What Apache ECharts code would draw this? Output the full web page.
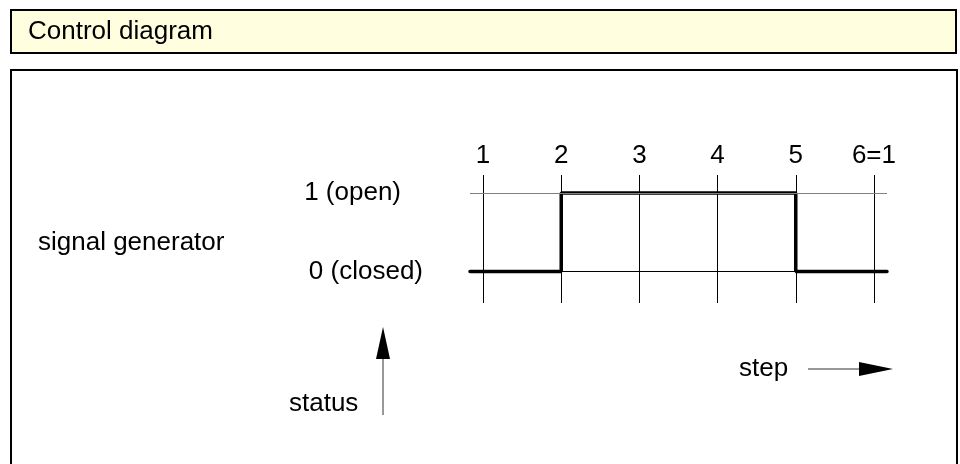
<!DOCTYPE html>
<html>
<head>
<meta charset="utf-8">
<script src="https://cdn.jsdelivr.net/npm/echarts@6/dist/echarts.min.js"></script>
<style>
  html, body { margin: 0; padding: 0; background: #fff; }
  #main { width: 960px; height: 464px; }
</style>
</head>
<body>
<div id="main"></div>
<script>
// step positions and their labels on top
var stepPos = [1, 2, 3, 4, 5, 6];
var stepLabels = ['1', '2', '3', '4', '5', '6=1'];
// status levels
var levels = [0, 1];
var levelLabels = ['0 (closed)', '1 (open)'];
// signal generator trace (value holds until next point)
var signalX = [0.833, 2, 5, 6.167];
var signalY = [0, 1, 0, 0];

var FONT = '"Liberation Sans", Arial, sans-serif';
var FS = 26;

var dom = document.getElementById('main');
var myChart = echarts.init(dom, null, { renderer: 'canvas' });

var signalData = signalX.map(function (x, i) { return [x, signalY[i]]; });

var vLines = stepPos.map(function (p, i) {
    return {
        xAxis: p,
        label: { formatter: stepLabels[i] }
    };
});
var levelDist = { 0: 47, 1: 69 };
var levelColor = { 0: '#000', 1: '#808080' };
var hLines = levels.map(function (v, i) {
    return {
        yAxis: v,
        lineStyle: { color: levelColor[v], width: 1, type: 'solid' },
        label: { position: 'start', formatter: levelLabels[i], distance: levelDist[v] }
    };
});

var option = {
    animation: false,
    grid: { left: 470, right: 73, top: 175, bottom: 161 },
    xAxis: { type: 'value', min: 0.833, max: 6.167, show: false },
    yAxis: { type: 'value', min: -0.4, max: 1.23, show: false },
    graphic: [
        {
            type: 'rect', shape: { x: 11, y: 10, width: 945, height: 43 },
            style: { fill: '#ffffe0', stroke: '#000', lineWidth: 2 }
        },
        {
            type: 'text', x: 28, y: 32,
            style: { text: 'Control diagram', font: FS + 'px ' + FONT, fill: '#000', verticalAlign: 'middle' }
        },
        {
            type: 'rect', shape: { x: 11, y: 70, width: 946, height: 420 },
            style: { fill: 'none', stroke: '#000', lineWidth: 2 }
        },
        {
            type: 'text', x: 38, y: 243,
            style: { text: 'signal generator', font: FS + 'px ' + FONT, fill: '#000', verticalAlign: 'middle' }
        },
        {
            type: 'text', x: 289, y: 404,
            style: { text: 'status', font: FS + 'px ' + FONT, fill: '#000', verticalAlign: 'middle' }
        },
        {
            type: 'text', x: 739, y: 369,
            style: { text: 'step', font: FS + 'px ' + FONT, fill: '#000', verticalAlign: 'middle' }
        },
        {
            type: 'line', shape: { x1: 383, y1: 415, x2: 383, y2: 356 },
            style: { stroke: '#333', lineWidth: 1 }
        },
        {
            type: 'polygon', shape: { points: [[383, 327], [376, 359], [390, 359]] },
            style: { fill: '#000' }
        },
        {
            type: 'line', shape: { x1: 808, y1: 369, x2: 862, y2: 369 },
            style: { stroke: '#333', lineWidth: 1 }
        },
        {
            type: 'polygon', shape: { points: [[893, 369], [859, 362], [859, 376]] },
            style: { fill: '#000' }
        }
    ],
    series: [
        {
            name: 'grid',
            type: 'line',
            data: [],
            z: 1,
            markLine: {
                silent: true,
                symbol: ['none', 'none'],
                lineStyle: { color: '#000', width: 1, type: 'solid' },
                label: {
                    show: true,
                    position: 'end',
                    distance: 6,
                    color: '#000',
                    fontFamily: FONT,
                    fontSize: FS
                },
                data: vLines.concat(hLines)
            }
        },
        {
            name: 'signal generator',
            type: 'line',
            z: 3,
            step: 'end',
            symbol: 'none',
            lineStyle: { color: '#000', width: 3.5, cap: 'round' },
            data: signalData
        }
    ]
};

if (option && typeof option === "object") {
    myChart.setOption(option, true);
}
</script>
</body>
</html>
